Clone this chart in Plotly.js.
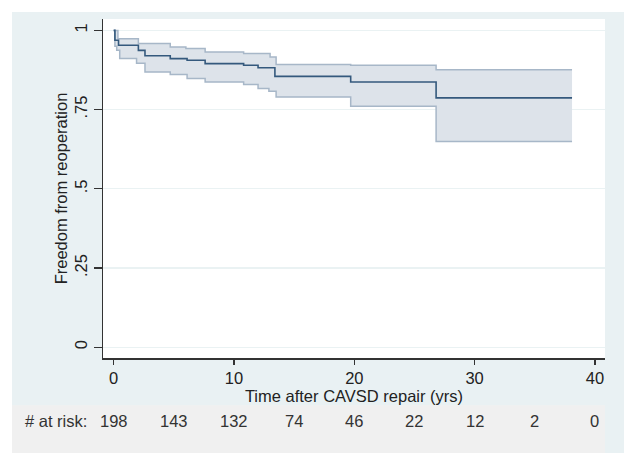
<!DOCTYPE html>
<html>
<head>
<meta charset="utf-8">
<script src="https://cdn.plot.ly/plotly-3.0.1.min.js"></script>
<style>html,body{margin:0;padding:0;background:#fff;}#chart{width:624px;height:453px;}</style>
</head>
<body>
<div id="chart"></div>
<script>
// Kaplan-Meier estimate (step times in years, survival)
const kmTimes = [0, 0.1, 0.4, 2.05, 2.6, 4.7, 6.1, 7.6, 10.8, 12.0, 13.4, 19.7, 26.8, 38.1];
const kmSurv  = [1.0, 0.969, 0.953, 0.937, 0.920, 0.911, 0.906, 0.895, 0.890, 0.882, 0.855, 0.837, 0.787, 0.787];

// Upper 95% CI
const upTimes = [0, 0.35, 2.05, 4.7, 6.0, 7.6, 10.8, 13.0, 13.5, 19.7, 26.8, 38.1];
const upVals  = [1.0, 0.974, 0.959, 0.948, 0.943, 0.932, 0.927, 0.916, 0.892, 0.890, 0.876, 0.876];

// Lower 95% CI
const loTimes = [0, 0.1, 0.25, 0.5, 1.9, 2.6, 4.7, 6.1, 7.6, 10.8, 12.0, 12.9, 13.5, 19.7, 26.8, 38.1];
const loVals  = [1.0, 0.950, 0.937, 0.911, 0.896, 0.869, 0.861, 0.848, 0.837, 0.829, 0.817, 0.808, 0.790, 0.761, 0.649, 0.649];

// Number at risk
const riskTimes = [0, 5, 10, 15, 20, 25, 30, 35, 40];
const riskCounts = [198, 143, 132, 74, 46, 22, 12, 2, 0];

const yTickVals = [0, 0.25, 0.5, 0.75, 1];
const yTickText = ['0', '.25', '.5', '.75', '1'];
const xTickVals = [0, 10, 20, 30, 40];

const font = 'Arial, "Liberation Sans", sans-serif';
const fs = 16.5;
const ciLine = '#a7b7c8';
const ciFill = 'rgba(221,227,234,1)';
const mainLine = '#34597d';

const traces = [
  {x: upTimes, y: upVals, type: 'scatter', mode: 'lines', line: {shape: 'hv', color: ciLine, width: 1.5}, hoverinfo: 'skip', showlegend: false},
  {x: loTimes, y: loVals, type: 'scatter', mode: 'lines', line: {shape: 'hv', color: ciLine, width: 1.5}, fill: 'tonexty', fillcolor: ciFill, hoverinfo: 'skip', showlegend: false},
  {x: kmTimes, y: kmSurv, type: 'scatter', mode: 'lines', line: {shape: 'hv', color: mainLine, width: 1.6}, showlegend: false}
];

const H = 453, mt = 19, mb = 95.3;
const ph = H - mt - mb;
const W = 624, ml = 103, mr = 19;
const pw = W - ml - mr;
function px2paperX(px) { return (px - ml) / pw; }
function px2paperY(py) { return (H - mb - py) / ph; }

const annotations = riskTimes.map((t, i) => ({
  x: t, xref: 'x', y: px2paperY(421), yref: 'paper', yanchor: 'middle', xanchor: 'center',
  text: String(riskCounts[i]), showarrow: false, font: {family: font, size: fs, color: '#333'}
}));
annotations.push({
  x: px2paperX(23), xref: 'paper', y: px2paperY(421), yref: 'paper', xanchor: 'left', yanchor: 'middle',
  text: '# at risk:', showarrow: false, font: {family: font, size: fs, color: '#333'}
});

const shapes = [
  {type: 'rect', xref: 'paper', yref: 'paper', x0: px2paperX(12), x1: px2paperX(624), y0: px2paperY(453), y1: px2paperY(12), fillcolor: '#e9f1f3', line: {width: 0}, layer: 'below'},
  {type: 'rect', xref: 'paper', yref: 'paper', x0: px2paperX(12), x1: px2paperX(605), y0: px2paperY(453), y1: px2paperY(405), fillcolor: '#f0f0f0', line: {width: 0}, layer: 'below'},
  {type: 'rect', xref: 'paper', yref: 'paper', x0: 0, x1: 1, y0: 0, y1: 1, fillcolor: '#ffffff', line: {width: 0}, layer: 'below'}
];

const layout = {
  width: 624, height: 453,
  margin: {l: ml, r: mr, t: mt, b: mb, pad: 0},
  paper_bgcolor: '#ffffff',
  plot_bgcolor: 'rgba(0,0,0,0)',
  font: {family: font, size: fs, color: '#222'},
  xaxis: {
    range: [-0.89, 40.84], tickvals: xTickVals, ticks: 'outside', ticklen: 5, tickwidth: 1.2, tickcolor: '#333',
    showline: true, linecolor: '#333', linewidth: 1.5, showgrid: false, zeroline: false,
    tickfont: {family: font, size: fs, color: '#222'},
    title: {text: 'Time after CAVSD repair (yrs)', standoff: 0, font: {family: font, size: fs, color: '#222'}}
  },
  yaxis: {
    range: [-0.034, 1.036], tickvals: yTickVals, ticktext: yTickText, tickangle: -90,
    ticks: 'outside', ticklen: 8, tickwidth: 1.2, tickcolor: '#333',
    showline: true, linecolor: '#333', linewidth: 1.5, showgrid: true, gridcolor: '#eaf2f3', gridwidth: 1.2, zeroline: false,
    tickfont: {family: font, size: fs, color: '#222'},
    title: {text: 'Freedom from reoperation', standoff: 0, font: {family: font, size: fs, color: '#222'}}
  },
  shapes: shapes,
  annotations: annotations
};

Plotly.newPlot('chart', traces, layout, {displayModeBar: false, staticPlot: true});
</script>
</body>
</html>
